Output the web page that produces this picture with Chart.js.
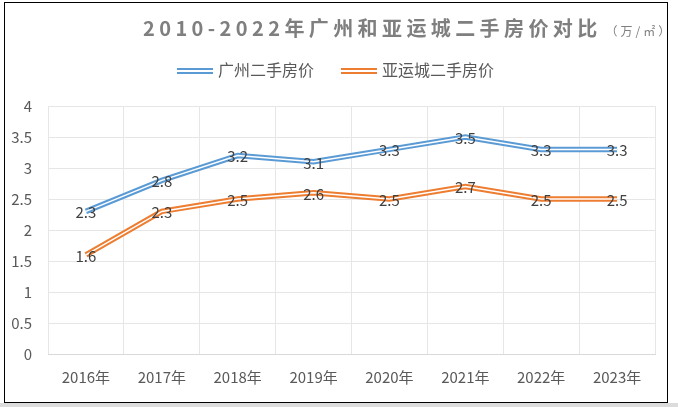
<!DOCTYPE html>
<html>
<head>
<meta charset="utf-8">
<script src="https://cdn.jsdelivr.net/npm/chart.js@4/dist/chart.umd.min.js"></script>
<style>
  html, body { margin: 0; padding: 0; background: #fff; }
  #wrap { position: relative; width: 678px; height: 409px; overflow: hidden; font-family: "Noto Sans CJK SC", sans-serif; }
  #chart { position: absolute; left: 0; top: 0; }
  #frame { position: absolute; left: 4px; top: 2px; width: 662px; height: 399px; border: 1px solid #000; pointer-events: none; }
  #shadow { position: absolute; left: 0; top: 403px; width: 678px; height: 4px; background: #dcdcdc; }
  #title { position: absolute; left: 143px; top: 13px; font-size: 20px; font-weight: bold; color: #7f7f7f; letter-spacing: 4.4px; white-space: nowrap; }
  #title small { font-size: 12px; font-weight: normal; letter-spacing: 3px; margin-left: 4px; }
  #legend { position: absolute; top: 57px; left: 177px; font-size: 16px; color: #595959; white-space: nowrap; }
  .item { display: inline-block; margin-right: 27px; }
  .swatch { display: inline-block; width: 36px; height: 2px; vertical-align: middle; margin-right: 5px; position: relative; top: -1px; }
</style>
</head>
<body>
<div id="wrap">
  <canvas id="chart" width="678" height="409"></canvas>
  <div id="title">2010-2022年广州和亚运城二手房价对比<small>（万/㎡）</small></div>
  <div id="legend"></div>
  <div id="frame"></div>
  <div id="shadow"></div>
</div>
<script>
// 数据
const years = ['2016年', '2017年', '2018年', '2019年', '2020年', '2021年', '2022年', '2023年'];
const gzPrice = [2.3, 2.8, 3.2, 3.1, 3.3, 3.5, 3.3, 3.3];
const yycPrice = [1.6, 2.3, 2.5, 2.6, 2.5, 2.7, 2.5, 2.5];
const seriesNames = ['广州二手房价', '亚运城二手房价'];
const seriesColors = ['#5b9bd5', '#ed7d31'];

// HTML 图例（双线样式）
const legendEl = document.getElementById('legend');
seriesNames.forEach((name, i) => {
  const c = seriesColors[i];
  const item = document.createElement('span');
  item.className = 'item';
  item.innerHTML = `<span class="swatch" style="border-top:2px solid ${c};border-bottom:2px solid ${c};"></span>${name}`;
  legendEl.appendChild(item);
});

// 双线：粗彩色线 + 白色细线
function doubleLine(data, color, label) {
  return [
    { label: label, data: data, borderColor: color, borderWidth: 5.5, pointRadius: 0, fill: false, tension: 0, order: 10 },
    { label: label + '_inner', data: data, borderColor: '#ffffff', borderWidth: 1.5, pointRadius: 0, fill: false, tension: 0, order: 0, inner: true }
  ];
}

// 数据标签插件
const valueLabels = {
  id: 'valueLabels',
  afterDatasetsDraw(chart) {
    const ctx = chart.ctx;
    ctx.save();
    ctx.font = '15px "Noto Sans CJK SC"';
    ctx.fillStyle = '#404040';
    ctx.textAlign = 'center';
    ctx.textBaseline = 'middle';
    chart.data.datasets.forEach((ds, di) => {
      if (ds.inner) return;
      chart.getDatasetMeta(di).data.forEach((pt, i) => {
        ctx.fillText(ds.data[i].toFixed(1), pt.x, pt.y + 1);
      });
    });
    ctx.restore();
  }
};

new Chart(document.getElementById('chart').getContext('2d'), {
  type: 'line',
  data: {
    labels: years,
    datasets: [
      ...doubleLine(gzPrice, seriesColors[0], seriesNames[0]),
      ...doubleLine(yycPrice, seriesColors[1], seriesNames[1])
    ]
  },
  options: {
    responsive: false,
    animation: false,
    layout: { padding: { left: 0, right: 23, top: 106, bottom: 0 } },
    scales: {
      x: {
        offset: true,
        grid: { color: '#e6e6e6', offset: true, drawTicks: false },
        border: { color: '#d9d9d9' },
        ticks: { color: '#595959', font: { size: 15, family: 'Noto Sans CJK SC' }, padding: 14 },
        afterFit(scale) { scale.height = 55; }
      },
      y: {
        min: 0,
        max: 4,
        ticks: {
          stepSize: 0.5,
          color: '#595959',
          font: { size: 15, family: 'Noto Sans CJK SC' },
          padding: 16,
          callback: v => String(v)
        },
        grid: { color: '#e6e6e6', drawTicks: false },
        border: { display: false },
        afterFit(scale) { scale.width = 48; }
      }
    },
    plugins: {
      legend: { display: false },
      tooltip: { enabled: false }
    }
  },
  plugins: [valueLabels]
});
</script>
</body>
</html>
